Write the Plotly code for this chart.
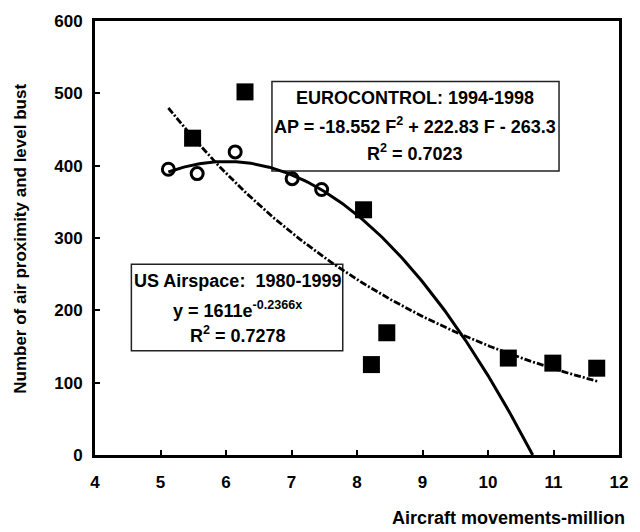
import numpy as np
import plotly.graph_objects as go

# Observed data: aircraft movements (million) vs. air proximity / level bust counts
us_x = [5.49, 6.29, 8.10, 8.22, 8.455, 10.31, 10.99, 11.66]
us_y = [438, 502, 339, 125, 169, 134, 127, 120]

euro_x = [5.12, 5.56, 6.14, 7.01, 7.46]
euro_y = [395, 389, 419, 382, 367]

# Trend-line coefficients as printed on the chart
exp_a, exp_b = 1611.0, -0.2366          # y = a * e^(b x)
poly_a, poly_b, poly_c = -18.552, 222.83, -263.3   # AP = a F^2 + b F + c

x_ticks = [4, 5, 6, 7, 8, 9, 10, 11, 12]
y_ticks = [0, 100, 200, 300, 400, 500, 600]

FONT = "Liberation Sans"

# Exponential trend over the US range
xe = np.linspace(5.12, 11.68, 200)
ye = exp_a * np.exp(exp_b * xe)

# Quadratic trend extended down to where it reaches zero
disc = poly_b ** 2 - 4 * poly_a * poly_c
root = (-poly_b - np.sqrt(disc)) / (2 * poly_a)
xp = np.linspace(5.12, root, 200)
yp = poly_a * xp ** 2 + poly_b * xp + poly_c

fig = go.Figure()
fig.add_trace(go.Scatter(x=xe, y=ye, mode="lines",
                         line=dict(color="black", width=2.8, dash="7px,2px,2px,2px"),
                         hoverinfo="skip"))
fig.add_trace(go.Scatter(x=xp, y=yp, mode="lines",
                         line=dict(color="black", width=3),
                         hoverinfo="skip"))
fig.add_trace(go.Scatter(x=us_x, y=us_y, mode="markers",
                         marker=dict(symbol="square", size=17, color="black")))
fig.add_trace(go.Scatter(x=euro_x, y=euro_y, mode="markers",
                         marker=dict(symbol="circle-open", size=12, color="black",
                                     line=dict(width=3, color="black"))))

L, R, T, B = 95, 12, 18, 77
W, H = 640, 532
pw, ph = W - L - R, H - T - B


def px(x):
    return (x - L) / pw


def py(y):
    return (H - B - y) / ph


# Legend boxes around the fit descriptions
fig.add_shape(type="rect", xref="paper", yref="paper",
              x0=px(275), x1=px(567), y0=py(169), y1=py(79),
              line=dict(color="#222", width=1.5), fillcolor="white", layer="below")
fig.add_shape(type="rect", xref="paper", yref="paper",
              x0=px(132), x1=px(347), y0=py(350), y1=py(263),
              line=dict(color="#222", width=1.5), fillcolor="white", layer="below")

tf = dict(family=FONT, size=18, color="black", weight="bold")
box_lines = [
    ("EUROCONTROL: 1994-1998", 421, 96),
    ("AP = -18.552 F<sup>2</sup> + 222.83 F - 263.3", 420, 123),
    ("R<sup>2</sup> = 0.7023", 421, 150),
    ("US Airspace:  1980-1999", 240, 280),
    ("y = 1611e<sup>-0.2366x</sup>", 240, 308),
    ("R<sup>2</sup> = 0.7278", 240, 334),
]
for txt, cx, cy in box_lines:
    fig.add_annotation(text=txt, xref="paper", yref="paper", x=px(cx), y=py(cy),
                       xanchor="center", yanchor="middle", showarrow=False, font=tf)

# Axis titles
fig.add_annotation(text="Aircraft movements-million", xref="paper", yref="paper",
                   x=px(516), y=py(518), xanchor="center", yanchor="middle",
                   showarrow=False, font=dict(family=FONT, size=18, color="black", weight="bold"))
fig.add_annotation(text="Number of air proximity and level bust", xref="paper", yref="paper",
                   x=px(19), y=py(237), xanchor="center", yanchor="middle", textangle=-90,
                   showarrow=False, font=dict(family=FONT, size=17, color="black", weight="bold"))

axis_common = dict(showline=True, linecolor="black", linewidth=3, mirror=True,
                   ticks="inside", ticklen=5, tickwidth=2, tickcolor="black",
                   showgrid=False, zeroline=False,
                   tickfont=dict(family=FONT, size=17, color="black", weight="bold"))

fig.update_xaxes(range=[4, 12], tickvals=x_ticks, ticklabelstandoff=10, **axis_common)
fig.update_yaxes(range=[0, 600], tickvals=y_ticks, ticklabelstandoff=6, **axis_common)

fig.update_layout(width=W, height=H, margin=dict(l=L, r=R, t=T, b=B),
                  plot_bgcolor="white", paper_bgcolor="white", showlegend=False,
                  font=dict(family=FONT))

fig.write_html("out.html")
